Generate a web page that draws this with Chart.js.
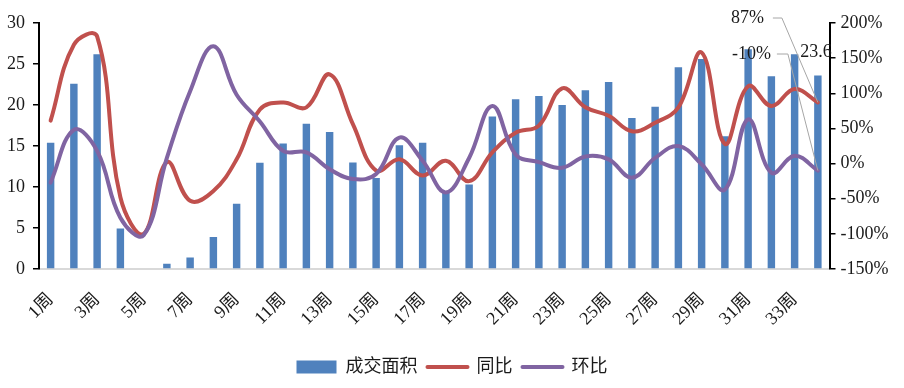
<!DOCTYPE html>
<html><head><meta charset="utf-8">
<script src="https://cdn.jsdelivr.net/npm/chart.js@4/dist/chart.umd.min.js"></script>
<style>html,body{margin:0;padding:0;background:#fff;}#wrap{width:904px;height:388px;position:relative;}</style>
</head><body><div id="wrap"><canvas id="c"></canvas></div>
<script>
const weeks = ['1周','2周','3周','4周','5周','6周','7周','8周','9周','10周','11周','12周','13周','14周','15周','16周','17周','18周','19周','20周','21周','22周','23周','24周','25周','26周','27周','28周','29周','30周','31周','32周','33周','34周'];
const area = [15.4,22.6,26.2,4.95,0,0.65,1.4,3.9,7.95,12.95,15.3,17.7,16.7,13.0,11.1,15.1,15.4,9.5,10.3,18.6,20.7,21.1,20.0,21.8,22.8,18.4,19.8,24.6,25.6,16.2,26.8,23.5,26.2,23.6];
const yoy = [61,169,181,-48,-100,2,-53,-39,6,77,87,80,127,56,-10,6,-17,4,-25,16,44,54,107,80,68,46,58,80,158,28,110,82,106,87];
const mom = [-27,48,18,-77,-102,8,103,167,98,60,18,16,-8,-22,-15,37,4,-41,8,82,13,2,-6,10,6,-20,8,25,-1,-37,63,-13,11,-10];
const seriesNames = ['成交面积','同比','环比'];
const leftTicks = {min:0, max:30, step:5};
const rightTicks = {min:-150, max:200, step:50};

const FONT = '"Liberation Serif","Times New Roman","Noto Sans CJK SC",serif';
const TXT = '#1a1a1a';
const BLUE = '#4f81bd', RED = '#c0504d', PURPLE = '#8064a2';

const lastLabels = {
  id: 'lastLabels',
  afterDatasetsDraw(chart) {
    const ctx = chart.ctx, n = weeks.length - 1, top = chart.chartArea.top;
    const pBar = chart.getDatasetMeta(0).data[n];
    const pRed = chart.getDatasetMeta(1).data[n];
    const pPur = chart.getDatasetMeta(2).data[n];
    ctx.save();
    ctx.font = '18px ' + FONT;
    ctx.fillStyle = TXT;
    ctx.strokeStyle = '#a6a6a6';
    ctx.lineWidth = 1;
    ctx.textBaseline = 'middle';
    // 同比 label
    const rx = pRed.x - 54, ry = top - 5;
    ctx.beginPath(); ctx.moveTo(rx + 9, ry); ctx.lineTo(rx + 18, ry); ctx.lineTo(pRed.x, pRed.y); ctx.stroke();
    ctx.textAlign = 'right'; ctx.fillText(Math.round(yoy[n]) + '%', rx, ry);
    // 环比 label
    const px = pPur.x - 47, py = top + 31;
    ctx.beginPath(); ctx.moveTo(px + 6, py); ctx.lineTo(px + 17, py); ctx.lineTo(pPur.x, pPur.y); ctx.stroke();
    ctx.fillText(Math.round(mom[n]) + '%', px, py);
    // bar label
    ctx.textAlign = 'center';
    ctx.fillText(String(area[n]), pBar.x - 2, pBar.y - 23);
    ctx.restore();
  }
};

new Chart(document.getElementById('c'), {
  type: 'bar',
  data: {
    labels: weeks,
    datasets: [
      {type:'bar', label: seriesNames[0], data: area, backgroundColor: BLUE, yAxisID:'y', order:2,
       categoryPercentage:1, barPercentage:0.32},
      {type:'line', label: seriesNames[1], data: yoy, borderColor: RED, backgroundColor: RED, borderWidth:4,
       pointRadius:0, tension:0.4, yAxisID:'y1', order:1, borderCapStyle:'round', borderJoinStyle:'round'},
      {type:'line', label: seriesNames[2], data: mom, borderColor: PURPLE, backgroundColor: PURPLE, borderWidth:4,
       pointRadius:0, tension:0.4, yAxisID:'y1', order:0, borderCapStyle:'round', borderJoinStyle:'round'}
    ]
  },
  options: {
    responsive: true, maintainAspectRatio: false, animation: false,
    layout: {padding: {top: 23, left: 0, right: 0, bottom: 2}},
    plugins: {
      tooltip: {enabled:false},
      legend: {
        position: 'bottom',
        labels: {
          usePointStyle: true, pointStyleWidth: 40, boxHeight: 13, padding: 10,
          color: TXT, font: {family: FONT, size: 18},
          sort: (a,b) => a.datasetIndex - b.datasetIndex,
          generateLabels(chart) {
            const items = Chart.defaults.plugins.legend.labels.generateLabels(chart);
            items.forEach(it => {
              if (it.datasetIndex === 0) { it.pointStyle = 'rect'; it.lineWidth = 0; }
              else { it.pointStyle = 'line'; it.lineWidth = 4; it.lineCap = 'round'; }
            });
            return items;
          }
        }
      }
    },
    scales: {
      x: {
        offset: true,
        grid: {display: false},
        border: {display: true, color: '#d9d9d9', width: 2},
        ticks: {autoSkip: false, maxRotation: 45, minRotation: 45, padding: 12, color: TXT,
                font: {family: FONT, size: 18},
                callback: (v, i) => i % 2 === 0 ? weeks[i] : ''},
        afterFit(s) { s.height = 79; }
      },
      y: {
        position: 'left', min: leftTicks.min, max: leftTicks.max,
        ticks: {stepSize: leftTicks.step, padding: 8, color: TXT, font: {family: FONT, size: 18}},
        grid: {drawOnChartArea: false, color: '#000', tickLength: 6, lineWidth: 1.5},
        border: {color: '#000', width: 2},
        afterFit(s) { s.width = 39; }
      },
      y1: {
        position: 'right', min: rightTicks.min, max: rightTicks.max,
        ticks: {stepSize: rightTicks.step, padding: 5, color: TXT, font: {family: FONT, size: 18},
                callback: v => v + '%'},
        grid: {drawOnChartArea: false, color: '#000', tickLength: 6, lineWidth: 1.5},
        border: {color: '#000', width: 2},
        afterFit(s) { s.width = 74.5; }
      }
    }
  },
  plugins: [lastLabels]
});
</script>
</body></html>
